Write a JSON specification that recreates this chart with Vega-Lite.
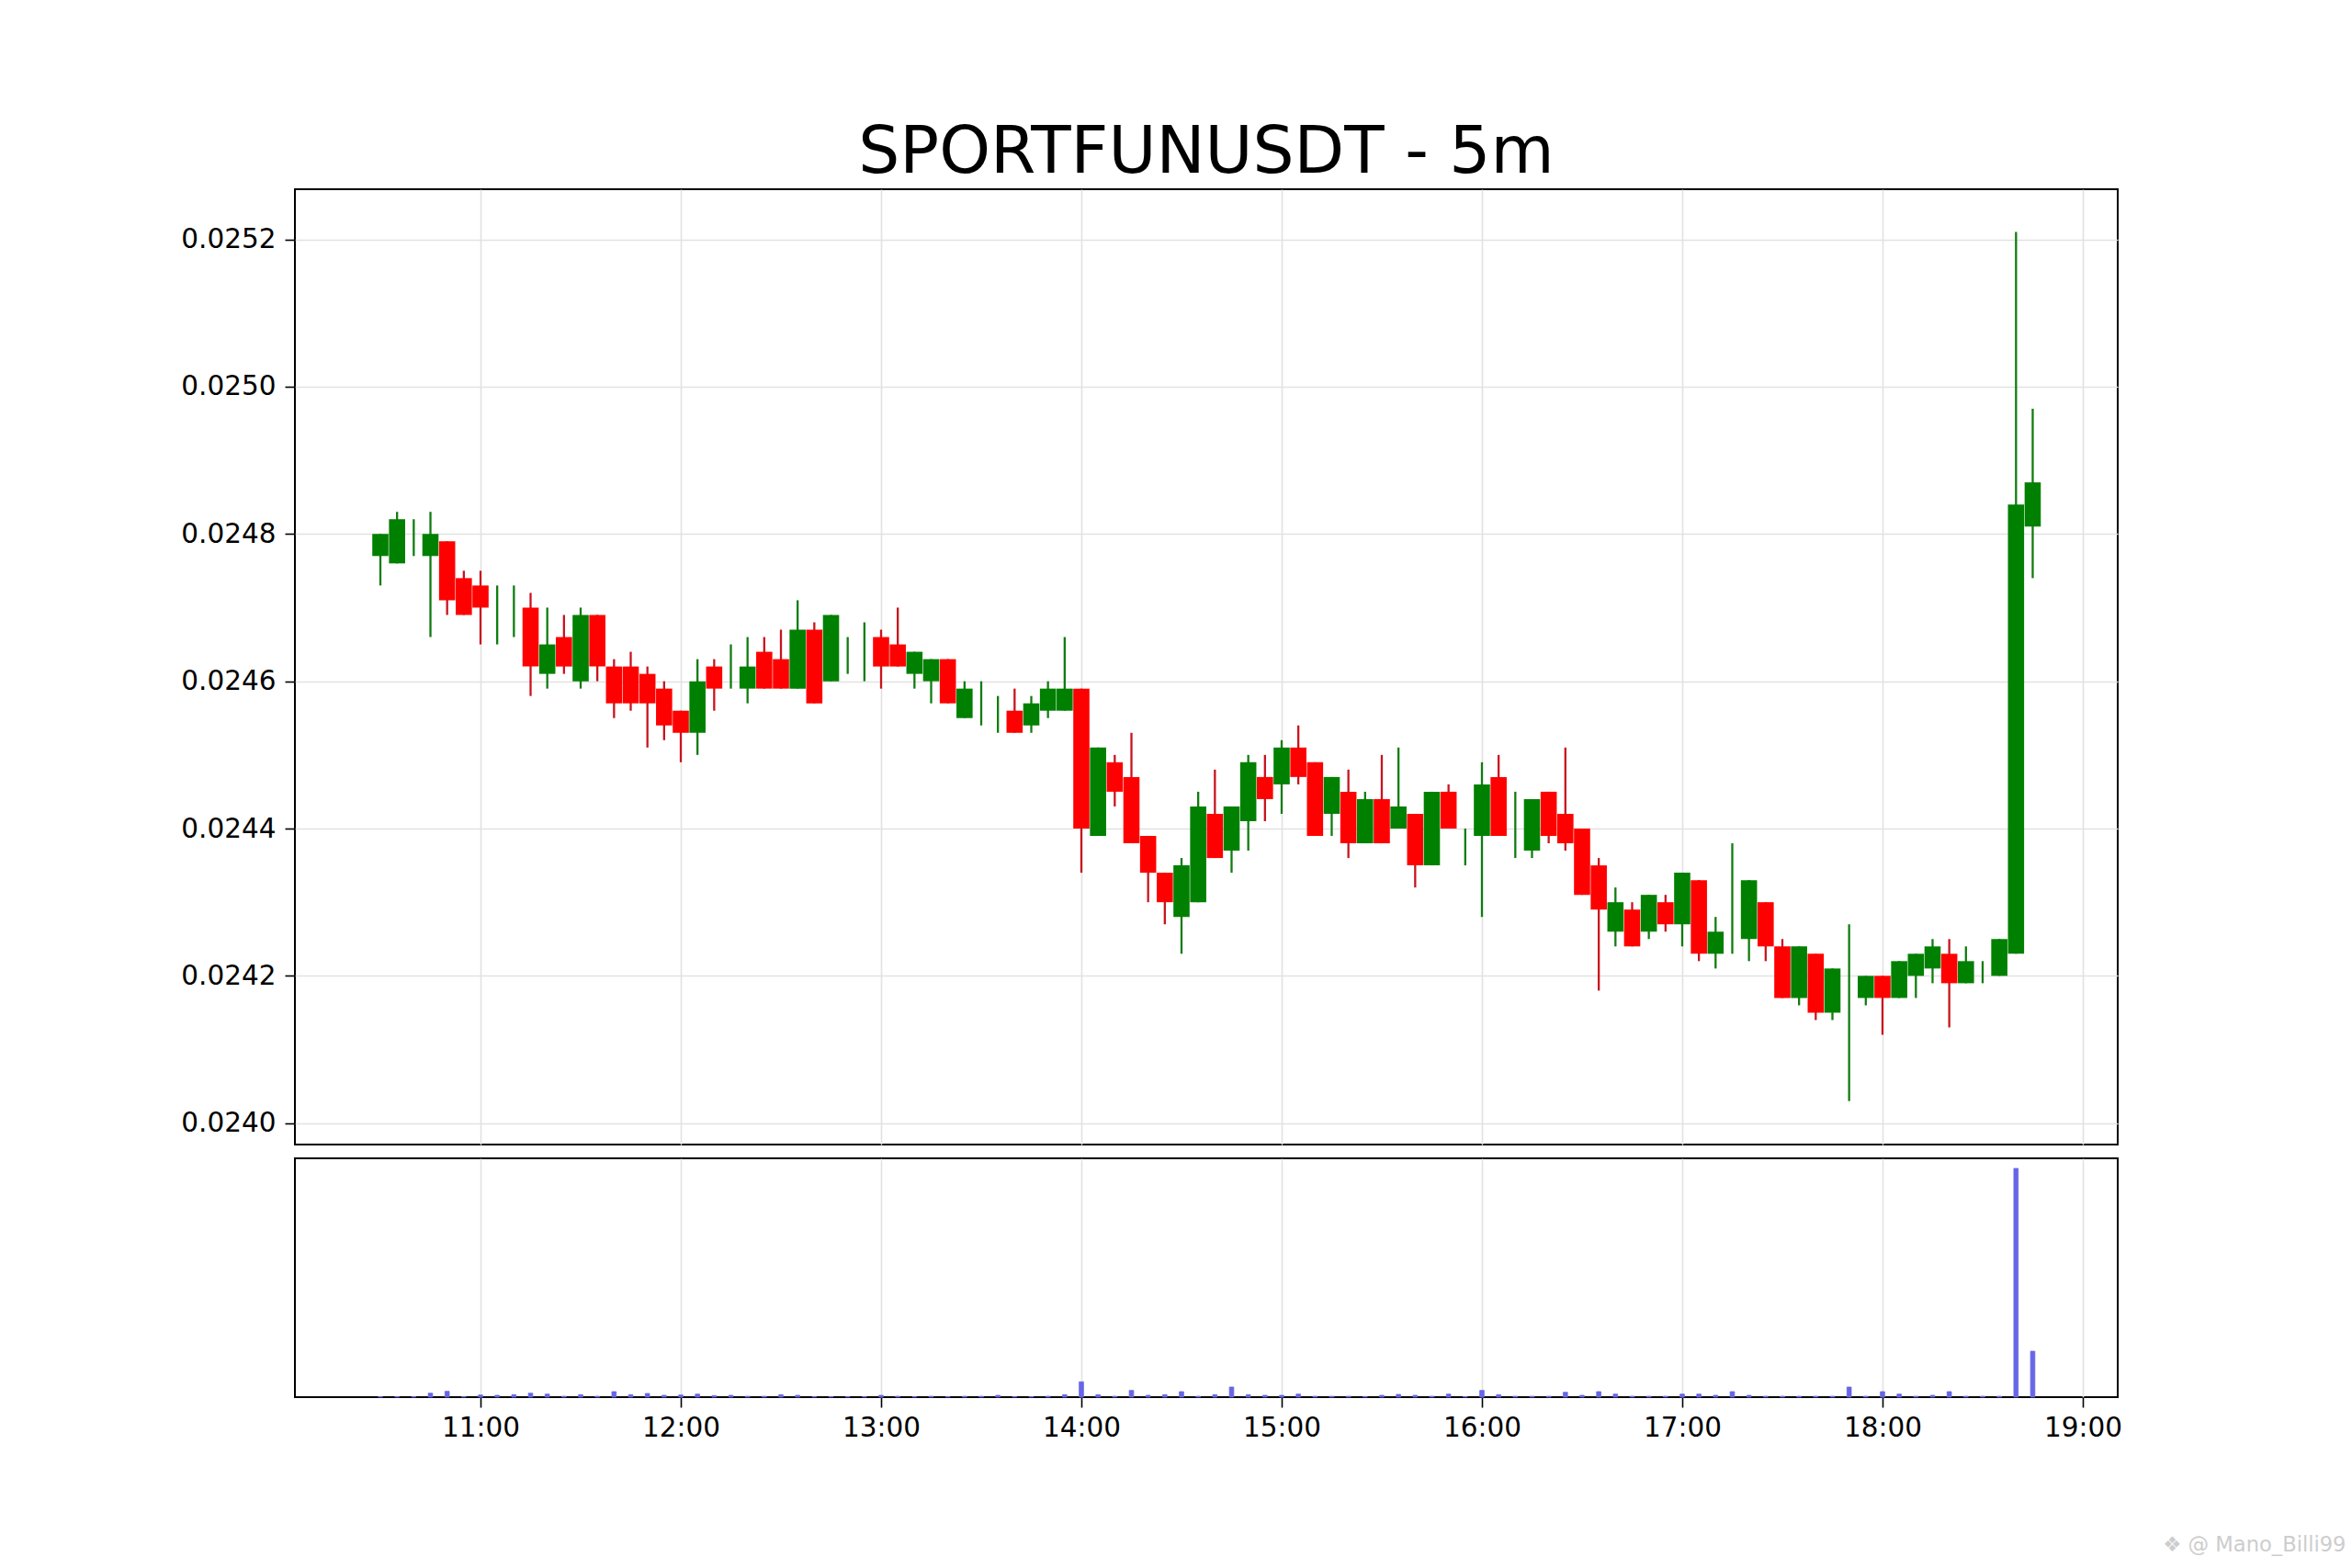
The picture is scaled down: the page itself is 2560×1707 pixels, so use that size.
{
"$schema":"https://vega.github.io/schema/vega-lite/v6.json",
"background":"white",
"padding":{"left":195,"top":130,"right":8,"bottom":6},
"config":{"view":{"stroke":"#000000","strokeWidth":2},"font":"DejaVu Sans"},
"spacing":13,
"datasets":{"c":[
{"t":"2024-01-01T10:30:00Z","o":0.02477,"c":0.0248,"h":0.0248,"l":0.02473,"v":0.5},
{"t":"2024-01-01T10:35:00Z","o":0.02476,"c":0.02482,"h":0.02483,"l":0.02476,"v":0.5},
{"t":"2024-01-01T10:40:00Z","o":0.0248,"c":0.0248,"h":0.02482,"l":0.02477,"v":0.5},
{"t":"2024-01-01T10:45:00Z","o":0.02477,"c":0.0248,"h":0.02483,"l":0.02466,"v":4.3},
{"t":"2024-01-01T10:50:00Z","o":0.02479,"c":0.02471,"h":0.02479,"l":0.02469,"v":6.3},
{"t":"2024-01-01T10:55:00Z","o":0.02474,"c":0.02469,"h":0.02475,"l":0.02469,"v":0.5},
{"t":"2024-01-01T11:00:00Z","o":0.02473,"c":0.0247,"h":0.02475,"l":0.02465,"v":2.3},
{"t":"2024-01-01T11:05:00Z","o":0.02469,"c":0.02469,"h":0.02473,"l":0.02465,"v":2},
{"t":"2024-01-01T11:10:00Z","o":0.0247,"c":0.0247,"h":0.02473,"l":0.02466,"v":2.7},
{"t":"2024-01-01T11:15:00Z","o":0.0247,"c":0.02462,"h":0.02472,"l":0.02458,"v":4.3},
{"t":"2024-01-01T11:20:00Z","o":0.02461,"c":0.02465,"h":0.0247,"l":0.02459,"v":3.3},
{"t":"2024-01-01T11:25:00Z","o":0.02466,"c":0.02462,"h":0.02469,"l":0.02461,"v":1},
{"t":"2024-01-01T11:30:00Z","o":0.0246,"c":0.02469,"h":0.0247,"l":0.02459,"v":2.7},
{"t":"2024-01-01T11:35:00Z","o":0.02469,"c":0.02462,"h":0.02469,"l":0.0246,"v":1},
{"t":"2024-01-01T11:40:00Z","o":0.02462,"c":0.02457,"h":0.02463,"l":0.02455,"v":6},
{"t":"2024-01-01T11:45:00Z","o":0.02462,"c":0.02457,"h":0.02464,"l":0.02456,"v":2.7},
{"t":"2024-01-01T11:50:00Z","o":0.02461,"c":0.02457,"h":0.02462,"l":0.02451,"v":4},
{"t":"2024-01-01T11:55:00Z","o":0.02459,"c":0.02454,"h":0.0246,"l":0.02452,"v":2},
{"t":"2024-01-01T12:00:00Z","o":0.02456,"c":0.02453,"h":0.02456,"l":0.02449,"v":2.3},
{"t":"2024-01-01T12:05:00Z","o":0.02453,"c":0.0246,"h":0.02463,"l":0.0245,"v":3.3},
{"t":"2024-01-01T12:10:00Z","o":0.02462,"c":0.02459,"h":0.02463,"l":0.02456,"v":1.7},
{"t":"2024-01-01T12:15:00Z","o":0.02462,"c":0.02462,"h":0.02465,"l":0.02459,"v":2},
{"t":"2024-01-01T12:20:00Z","o":0.02459,"c":0.02462,"h":0.02466,"l":0.02457,"v":1},
{"t":"2024-01-01T12:25:00Z","o":0.02464,"c":0.02459,"h":0.02466,"l":0.02459,"v":1},
{"t":"2024-01-01T12:30:00Z","o":0.02463,"c":0.02459,"h":0.02467,"l":0.02459,"v":2.7},
{"t":"2024-01-01T12:35:00Z","o":0.02459,"c":0.02467,"h":0.02471,"l":0.02459,"v":2},
{"t":"2024-01-01T12:40:00Z","o":0.02467,"c":0.02457,"h":0.02468,"l":0.02457,"v":0.5},
{"t":"2024-01-01T12:45:00Z","o":0.0246,"c":0.02469,"h":0.02469,"l":0.0246,"v":0.5},
{"t":"2024-01-01T12:50:00Z","o":0.02463,"c":0.02463,"h":0.02466,"l":0.02461,"v":0.5},
{"t":"2024-01-01T12:55:00Z","o":0.02464,"c":0.02464,"h":0.02468,"l":0.0246,"v":0.5},
{"t":"2024-01-01T13:00:00Z","o":0.02466,"c":0.02462,"h":0.02467,"l":0.02459,"v":2},
{"t":"2024-01-01T13:05:00Z","o":0.02465,"c":0.02462,"h":0.0247,"l":0.02462,"v":1},
{"t":"2024-01-01T13:10:00Z","o":0.02461,"c":0.02464,"h":0.02464,"l":0.02459,"v":0.5},
{"t":"2024-01-01T13:15:00Z","o":0.0246,"c":0.02463,"h":0.02463,"l":0.02457,"v":1},
{"t":"2024-01-01T13:20:00Z","o":0.02463,"c":0.02457,"h":0.02463,"l":0.02457,"v":0.5},
{"t":"2024-01-01T13:25:00Z","o":0.02455,"c":0.02459,"h":0.0246,"l":0.02455,"v":1},
{"t":"2024-01-01T13:30:00Z","o":0.02457,"c":0.02457,"h":0.0246,"l":0.02454,"v":1},
{"t":"2024-01-01T13:35:00Z","o":0.02455,"c":0.02455,"h":0.02458,"l":0.02453,"v":2},
{"t":"2024-01-01T13:40:00Z","o":0.02456,"c":0.02453,"h":0.02459,"l":0.02453,"v":0.5},
{"t":"2024-01-01T13:45:00Z","o":0.02454,"c":0.02457,"h":0.02458,"l":0.02453,"v":0.5},
{"t":"2024-01-01T13:50:00Z","o":0.02456,"c":0.02459,"h":0.0246,"l":0.02455,"v":1},
{"t":"2024-01-01T13:55:00Z","o":0.02456,"c":0.02459,"h":0.02466,"l":0.02456,"v":2.7},
{"t":"2024-01-01T14:00:00Z","o":0.02459,"c":0.0244,"h":0.02459,"l":0.02434,"v":16.7},
{"t":"2024-01-01T14:05:00Z","o":0.02439,"c":0.02451,"h":0.02451,"l":0.02439,"v":2.7},
{"t":"2024-01-01T14:10:00Z","o":0.02449,"c":0.02445,"h":0.0245,"l":0.02443,"v":1},
{"t":"2024-01-01T14:15:00Z","o":0.02447,"c":0.02438,"h":0.02453,"l":0.02438,"v":7.3},
{"t":"2024-01-01T14:20:00Z","o":0.02439,"c":0.02434,"h":0.02439,"l":0.0243,"v":2},
{"t":"2024-01-01T14:25:00Z","o":0.02434,"c":0.0243,"h":0.02434,"l":0.02427,"v":2.7},
{"t":"2024-01-01T14:30:00Z","o":0.02428,"c":0.02435,"h":0.02436,"l":0.02423,"v":6},
{"t":"2024-01-01T14:35:00Z","o":0.0243,"c":0.02443,"h":0.02445,"l":0.0243,"v":1},
{"t":"2024-01-01T14:40:00Z","o":0.02442,"c":0.02436,"h":0.02448,"l":0.02436,"v":2.7},
{"t":"2024-01-01T14:45:00Z","o":0.02437,"c":0.02443,"h":0.02443,"l":0.02434,"v":11},
{"t":"2024-01-01T14:50:00Z","o":0.02441,"c":0.02449,"h":0.0245,"l":0.02437,"v":2.7},
{"t":"2024-01-01T14:55:00Z","o":0.02447,"c":0.02444,"h":0.0245,"l":0.02441,"v":2},
{"t":"2024-01-01T15:00:00Z","o":0.02446,"c":0.02451,"h":0.02452,"l":0.02442,"v":2},
{"t":"2024-01-01T15:05:00Z","o":0.02451,"c":0.02447,"h":0.02454,"l":0.02446,"v":3.3},
{"t":"2024-01-01T15:10:00Z","o":0.02449,"c":0.02439,"h":0.02449,"l":0.02439,"v":1},
{"t":"2024-01-01T15:15:00Z","o":0.02442,"c":0.02447,"h":0.02447,"l":0.02439,"v":1},
{"t":"2024-01-01T15:20:00Z","o":0.02445,"c":0.02438,"h":0.02448,"l":0.02436,"v":1},
{"t":"2024-01-01T15:25:00Z","o":0.02438,"c":0.02444,"h":0.02445,"l":0.02438,"v":0.7},
{"t":"2024-01-01T15:30:00Z","o":0.02444,"c":0.02438,"h":0.0245,"l":0.02438,"v":2},
{"t":"2024-01-01T15:35:00Z","o":0.0244,"c":0.02443,"h":0.02451,"l":0.0244,"v":3},
{"t":"2024-01-01T15:40:00Z","o":0.02442,"c":0.02435,"h":0.02442,"l":0.02432,"v":2},
{"t":"2024-01-01T15:45:00Z","o":0.02435,"c":0.02445,"h":0.02445,"l":0.02435,"v":1},
{"t":"2024-01-01T15:50:00Z","o":0.02445,"c":0.0244,"h":0.02446,"l":0.0244,"v":3.3},
{"t":"2024-01-01T15:55:00Z","o":0.02437,"c":0.02437,"h":0.0244,"l":0.02435,"v":0.5},
{"t":"2024-01-01T16:00:00Z","o":0.02439,"c":0.02446,"h":0.02449,"l":0.02428,"v":7.3},
{"t":"2024-01-01T16:05:00Z","o":0.02447,"c":0.02439,"h":0.0245,"l":0.02439,"v":2.7},
{"t":"2024-01-01T16:10:00Z","o":0.0244,"c":0.0244,"h":0.02445,"l":0.02436,"v":1},
{"t":"2024-01-01T16:15:00Z","o":0.02437,"c":0.02444,"h":0.02444,"l":0.02436,"v":1},
{"t":"2024-01-01T16:20:00Z","o":0.02445,"c":0.02439,"h":0.02445,"l":0.02438,"v":1},
{"t":"2024-01-01T16:25:00Z","o":0.02442,"c":0.02438,"h":0.02451,"l":0.02437,"v":5.3},
{"t":"2024-01-01T16:30:00Z","o":0.0244,"c":0.02431,"h":0.0244,"l":0.02431,"v":2},
{"t":"2024-01-01T16:35:00Z","o":0.02435,"c":0.02429,"h":0.02436,"l":0.02418,"v":6},
{"t":"2024-01-01T16:40:00Z","o":0.02426,"c":0.0243,"h":0.02432,"l":0.02424,"v":3.3},
{"t":"2024-01-01T16:45:00Z","o":0.02429,"c":0.02424,"h":0.0243,"l":0.02424,"v":1},
{"t":"2024-01-01T16:50:00Z","o":0.02426,"c":0.02431,"h":0.02431,"l":0.02425,"v":1},
{"t":"2024-01-01T16:55:00Z","o":0.0243,"c":0.02427,"h":0.02431,"l":0.02426,"v":1},
{"t":"2024-01-01T17:00:00Z","o":0.02427,"c":0.02434,"h":0.02434,"l":0.02424,"v":3.3},
{"t":"2024-01-01T17:05:00Z","o":0.02433,"c":0.02423,"h":0.02433,"l":0.02422,"v":3.3},
{"t":"2024-01-01T17:10:00Z","o":0.02423,"c":0.02426,"h":0.02428,"l":0.02421,"v":2},
{"t":"2024-01-01T17:15:00Z","o":0.0243,"c":0.0243,"h":0.02438,"l":0.02423,"v":6},
{"t":"2024-01-01T17:20:00Z","o":0.02425,"c":0.02433,"h":0.02433,"l":0.02422,"v":2},
{"t":"2024-01-01T17:25:00Z","o":0.0243,"c":0.02424,"h":0.0243,"l":0.02422,"v":1},
{"t":"2024-01-01T17:30:00Z","o":0.02424,"c":0.02417,"h":0.02425,"l":0.02417,"v":1},
{"t":"2024-01-01T17:35:00Z","o":0.02417,"c":0.02424,"h":0.02424,"l":0.02416,"v":1},
{"t":"2024-01-01T17:40:00Z","o":0.02423,"c":0.02415,"h":0.02423,"l":0.02414,"v":1},
{"t":"2024-01-01T17:45:00Z","o":0.02415,"c":0.02421,"h":0.02421,"l":0.02414,"v":1},
{"t":"2024-01-01T17:50:00Z","o":0.02415,"c":0.02415,"h":0.02427,"l":0.02403,"v":11},
{"t":"2024-01-01T17:55:00Z","o":0.02417,"c":0.0242,"h":0.0242,"l":0.02416,"v":1},
{"t":"2024-01-01T18:00:00Z","o":0.0242,"c":0.02417,"h":0.0242,"l":0.02412,"v":6},
{"t":"2024-01-01T18:05:00Z","o":0.02417,"c":0.02422,"h":0.02422,"l":0.02417,"v":3.3},
{"t":"2024-01-01T18:10:00Z","o":0.0242,"c":0.02423,"h":0.02423,"l":0.02417,"v":1},
{"t":"2024-01-01T18:15:00Z","o":0.02421,"c":0.02424,"h":0.02425,"l":0.02419,"v":2},
{"t":"2024-01-01T18:20:00Z","o":0.02423,"c":0.02419,"h":0.02425,"l":0.02413,"v":6},
{"t":"2024-01-01T18:25:00Z","o":0.02419,"c":0.02422,"h":0.02424,"l":0.02419,"v":1},
{"t":"2024-01-01T18:30:00Z","o":0.0242,"c":0.0242,"h":0.02422,"l":0.02419,"v":1},
{"t":"2024-01-01T18:35:00Z","o":0.0242,"c":0.02425,"h":0.02425,"l":0.0242,"v":1},
{"t":"2024-01-01T18:40:00Z","o":0.02423,"c":0.02484,"h":0.02521,"l":0.02423,"v":249},
{"t":"2024-01-01T18:45:00Z","o":0.02481,"c":0.02487,"h":0.02497,"l":0.02474,"v":50}
]},
"vconcat":[
{"width":1984,"height":1040,"data":{"name":"c"},
"title":{"text":"SPORTFUNUSDT - 5m","font":"DejaVu Sans","fontSize":71,"fontWeight":"normal","color":"#000000","anchor":"middle","offset":3},
"encoding":{"x":{"field":"t","type":"temporal","title":null,"scale":{"type":"utc","nice":false,"padding":0,"domain":["2024-01-01T10:04:24Z","2024-01-01T19:10:28Z"]},
"axis":{"labels":false,"ticks":false,"domain":false,"title":null,"grid":true,"gridColor":"#e2e2e2","gridWidth":1.6,
"values":[{"year":2024,"month":1,"date":1,"hours":11,"utc":true},{"year":2024,"month":1,"date":1,"hours":12,"utc":true},{"year":2024,"month":1,"date":1,"hours":13,"utc":true},{"year":2024,"month":1,"date":1,"hours":14,"utc":true},{"year":2024,"month":1,"date":1,"hours":15,"utc":true},{"year":2024,"month":1,"date":1,"hours":16,"utc":true},{"year":2024,"month":1,"date":1,"hours":17,"utc":true},{"year":2024,"month":1,"date":1,"hours":18,"utc":true},{"year":2024,"month":1,"date":1,"hours":19,"utc":true}]}}},
"layer":[
{"mark":{"type":"rule","strokeWidth":2.3},
"encoding":{"y":{"field":"l","type":"quantitative","title":null,"scale":{"domain":[0.023971,0.025268],"zero":false,"nice":false},
"axis":{"values":[0.024,0.0242,0.0244,0.0246,0.0248,0.025,0.0252],"format":".4f","labelFontSize":29.5,"labelColor":"#000000","domain":false,"tickColor":"#000000","tickWidth":1.6,"tickSize":11,"labelPadding":10,"gridColor":"#e2e2e2","gridWidth":1.6}},
"y2":{"field":"h"},
"color":{"condition":{"test":"datum.c<datum.o","value":"#c8141e"},"value":"#107c10"}}},
{"mark":{"type":"bar","size":17.6},
"encoding":{"y":{"field":"o","type":"quantitative"},"y2":{"field":"c"},
"color":{"condition":{"test":"datum.c<datum.o","value":"#ff0000"},"value":"#008000"}}}
]},
{"width":1984,"height":260,"data":{"name":"c"},
"mark":{"type":"bar","size":4.7,"color":"#6666e6","stroke":"#6666e6","strokeWidth":0.8},
"encoding":{"x":{"field":"t","type":"temporal","title":null,"scale":{"type":"utc","nice":false,"padding":0,"domain":["2024-01-01T10:04:24Z","2024-01-01T19:10:28Z"]},
"axis":{"format":"%H:%M","labelFontSize":29.5,"labelColor":"#000000","domain":false,"tickColor":"#000000","tickWidth":1.6,"tickSize":11,"labelPadding":8,"labelFlush":false,"gridColor":"#e2e2e2","gridWidth":1.6,
"values":[{"year":2024,"month":1,"date":1,"hours":11,"utc":true},{"year":2024,"month":1,"date":1,"hours":12,"utc":true},{"year":2024,"month":1,"date":1,"hours":13,"utc":true},{"year":2024,"month":1,"date":1,"hours":14,"utc":true},{"year":2024,"month":1,"date":1,"hours":15,"utc":true},{"year":2024,"month":1,"date":1,"hours":16,"utc":true},{"year":2024,"month":1,"date":1,"hours":17,"utc":true},{"year":2024,"month":1,"date":1,"hours":18,"utc":true},{"year":2024,"month":1,"date":1,"hours":19,"utc":true}],
"title":"❖ @ Mano_Billi99","titleFontSize":22.6,"titleFontWeight":"normal","titleColor":"#cdcdcd","titleAlign":"right","titleBaseline":"alphabetic","titleX":2232,"titleY":167}},
"y":{"field":"v","type":"quantitative","title":null,"scale":{"domain":[0,260],"nice":false},"axis":null}}}
]
}
